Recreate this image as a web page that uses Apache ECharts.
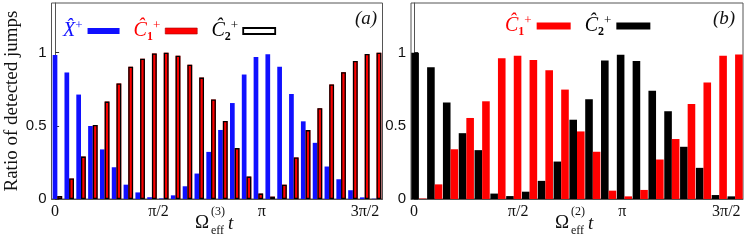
<!DOCTYPE html>
<html><head><meta charset="utf-8">
<script src="https://cdn.jsdelivr.net/npm/echarts@6/dist/echarts.min.js"></script>
<style>html,body{margin:0;padding:0;background:#fff}#c{width:748px;height:240px}</style>
</head><body><div id="c"></div>
<script>
// ---------- data ----------
const samplesA = [0,1,2,3,4,5,6,7,8,9,10,11,12,13,14,15,16,17,18,19,20,21,22,23,24,25,26,27];
const samplesB = [0,1,2,3,4,5,6,7,8,9,10,11,12,13,14,15,16,17,18,19,20];
// panel (a)
const xPlusA = [0.984,0.865,0.714,0.499,0.339,0.217,0.098,0.045,0.012,0.004,0.025,0.087,0.174,0.322,0.472,0.656,0.851,0.970,0.989,0.904,0.718,0.531,0.384,0.222,0.135,0.060,0.011,0.002];
const c1A    = [0.020,0.140,0.290,0.506,0.666,0.790,0.904,0.959,0.995,1.000,0.979,0.918,0.830,0.680,0.533,0.348,0.153,0.037,0.016,0.098,0.284,0.471,0.620,0.783,0.867,0.943,0.991,1.000];
const c2A    = [0.020,0.140,0.290,0.506,0.666,0.790,0.904,0.959,0.995,1.000,0.979,0.918,0.830,0.680,0.533,0.348,0.153,0.037,0.016,0.098,0.284,0.471,0.620,0.783,0.867,0.943,0.991,1.000];
// panel (b)
const c1B = [0.003,0.100,0.340,0.554,0.668,0.963,0.980,0.950,0.880,0.748,0.462,0.323,0.057,0.018,0.062,0.270,0.410,0.650,0.796,0.979,0.988];
const c2B = [1.000,0.900,0.660,0.450,0.334,0.037,0.020,0.050,0.124,0.256,0.542,0.682,0.947,0.986,0.943,0.740,0.600,0.357,0.213,0.027,0.018];
// ticks
const xTickValues = [0,1,2,3];            // in units of pi/2
const xTickLabels = ['0','π/2','π','3π/2'];
const yTickValues = [0,0.5,1];
const yTickLabels = ['0','0.5','1'];
const nameX = 'X̂⁺', nameC1 = 'Ĉ₁⁺', nameC2 = 'Ĉ₂⁺';

// ---------- styles ----------
const BLUE = '#1010ff', RED = '#ff0000', BLACK = '#000000', FRAME = '#555555';
const SERIF = '"Liberation Serif", "DejaVu Serif", serif';
const SANS = '"Liberation Sans", Arial, sans-serif';

const chart = echarts.init(document.getElementById('c'), null, {renderer:'canvas'});

function yAxisFor(grid, withName){
  const ax = {
    type:'value', gridIndex:grid, min:0, max:1.34, interval:0.5,
    axisLine:{show:true, lineStyle:{color:FRAME, width:1}},
    axisTick:{show:true, inside:true, length:4, customValues:yTickValues, lineStyle:{color:'#333'}},
    axisLabel:{customValues:yTickValues, margin:5, color:'#111', fontFamily:SANS, fontSize:15,
      formatter:v => { const i = yTickValues.indexOf(v); return i < 0 ? '' : yTickLabels[i]; }},
    splitLine:{show:false}
  };
  if (withName){
    ax.name = 'Ratio of detected jumps';
    ax.nameLocation = 'middle';
    ax.nameRotate = 90;
    ax.nameGap = 25;
    ax.nameTextStyle = {fontFamily:SERIF, fontSize:19, color:'#111'};
  }
  return ax;
}
function labelAxis(grid, min, max){
  return {
    type:'value', gridIndex:grid, position:'bottom', min:min, max:max,
    axisLine:{show:false}, axisTick:{show:false}, splitLine:{show:false},
    axisLabel:{customValues:xTickValues, margin:5, color:'#111', fontFamily:SERIF, fontSize:16,
      formatter:v => { const i = xTickValues.indexOf(v); return i < 0 ? '' : xTickLabels[i]; }}
  };
}
const richLegend = {
  m:{fontFamily:SERIF, fontStyle:'italic', fontSize:20, lineHeight:24, verticalAlign:'middle'},
  sub:{fontFamily:SERIF, fontSize:12, lineHeight:24, verticalAlign:'bottom', fontWeight:'bold'},
  sup:{fontFamily:SERIF, fontSize:13, lineHeight:24, verticalAlign:'top'}
};
const legendText = {};
legendText[nameX]  = '{m|X̂}{sup|+}';
legendText[nameC1] = '{m|Ĉ}{sub|1}{sup|+}';
legendText[nameC2] = '{m|Ĉ}{sub|2}{sup|+}';

function txt(left, top, text, font){
  return {type:'text', left:left, top:top, style:{text:text, font:font, fill:'#111'}};
}

const option = {
  animation:false,
  backgroundColor:'#fff',
  grid:[
    {left:51.5, top:3, width:331, height:196, show:true, borderColor:FRAME, borderWidth:1},
    {left:411, top:3, width:332, height:196, show:true, borderColor:FRAME, borderWidth:1}
  ],
  xAxis:[
    {type:'category', gridIndex:0, data:samplesA, boundaryGap:true,
     axisLine:{lineStyle:{color:FRAME}}, axisTick:{show:false}, axisLabel:{show:false}},
    {type:'category', gridIndex:0, data:samplesA, show:false},
    {type:'category', gridIndex:1, data:samplesB, boundaryGap:true,
     axisLine:{lineStyle:{color:FRAME}}, axisTick:{show:false}, axisLabel:{show:false}},
    labelAxis(0, -0.035, 3.17),
    labelAxis(1, -0.029, 3.160)
  ],
  yAxis:[ yAxisFor(0, true), yAxisFor(1, false) ],
  legend:[
    {left:58, top:14, align:'right', icon:'rect', itemWidth:32, itemHeight:6, itemGap:14,
     selectedMode:false, formatter:n => legendText[n],
     textStyle:{rich:richLegend, fontSize:20},
     data:[
       {name:nameX, textStyle:{color:BLUE}, itemStyle:{color:BLUE, borderWidth:0}},
       {name:nameC1, textStyle:{color:RED}, itemStyle:{color:RED, borderColor:'#aa0000', borderWidth:0.6}},
       {name:nameC2, textStyle:{color:BLACK}, itemStyle:{color:'#fff', borderColor:BLACK, borderWidth:1.8}}
     ]},
    {left:500, top:9, align:'right', icon:'rect', itemWidth:34, itemHeight:7, itemGap:14,
     selectedMode:false, formatter:n => legendText[n],
     textStyle:{rich:richLegend, fontSize:20},
     data:[
       {name:nameC1, textStyle:{color:RED}, itemStyle:{color:RED, borderWidth:0}},
       {name:nameC2, textStyle:{color:BLACK}, itemStyle:{color:BLACK, borderWidth:0}}
     ]}
  ],
  series:[
    {name:nameX, type:'bar', xAxisIndex:0, yAxisIndex:0, data:xPlusA, barWidth:4.7, barGap:'0%',
     itemStyle:{color:BLUE}},
    {name:nameC1, type:'bar', xAxisIndex:0, yAxisIndex:0, data:c1A, barWidth:4.8, barGap:'0%',
     itemStyle:{color:RED}},
    {name:'spacer', type:'bar', xAxisIndex:1, yAxisIndex:0, data:xPlusA, barWidth:4.7, barGap:'0%',
     silent:true, itemStyle:{color:'rgba(0,0,0,0)'}},
    {name:nameC2, type:'bar', xAxisIndex:1, yAxisIndex:0, data:c2A, barWidth:4.8, barGap:'0%',
     itemStyle:{color:'rgba(0,0,0,0)', borderColor:BLACK, borderWidth:1.3}},
    {name:nameC2, type:'bar', xAxisIndex:2, yAxisIndex:1, data:c2B, barWidth:7.6, barGap:'0%',
     itemStyle:{color:BLACK}},
    {name:nameC1, type:'bar', xAxisIndex:2, yAxisIndex:1, data:c1B, barWidth:7.6, barGap:'0%',
     itemStyle:{color:RED}}
  ],
  graphic:[
    txt(355, 9, '(a)', 'italic 19px ' + SERIF),
    txt(713, 9, '(b)', 'italic 19px ' + SERIF),
    txt(195, 214, 'Ω', '19px ' + SERIF),
    txt(211, 206, '(3)', '12px ' + SERIF),
    txt(211, 225, 'eff', '12px ' + SERIF),
    txt(228, 214, 't', 'italic 19px ' + SERIF),
    txt(555, 214, 'Ω', '19px ' + SERIF),
    txt(571, 206, '(2)', '12px ' + SERIF),
    txt(571, 225, 'eff', '12px ' + SERIF),
    txt(588, 214, 't', 'italic 19px ' + SERIF)
  ]
};
chart.setOption(option);
</script>
</body></html>
